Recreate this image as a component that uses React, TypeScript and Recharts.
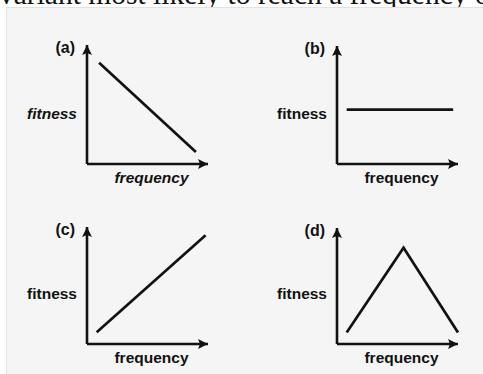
import React from 'react';
import { LineChart, Line, XAxis, YAxis } from 'recharts';

// ---- data (axes run 0..10 on both scales) ----
const panelTitles = ['(a)', '(b)', '(c)', '(d)'];
const yAxisLabel = 'fitness';
const xAxisLabel = 'frequency';
const headerText = 'variant most likely to reach a frequency of';

const freqA = [1.0, 9.0];
const fitnessA = [8.5, 1.0];
const freqB = [0.8, 9.6];
const fitnessB = [4.6, 4.6];
const freqC = [0.8, 9.8];
const fitnessC = [1.0, 9.3];
const freqD = [0.8, 5.5, 10];
const fitnessD = [1.0, 8.3, 1.0];

const toRows = (xs: number[], ys: number[]) => xs.map((x, i) => ({ x, y: ys[i] }));

const INK = '#121212';
const SANS = '"Liberation Sans", Arial, sans-serif';

type PanelProps = {
  id: string;
  title: string;
  data: { x: number; y: number }[];
  italic: boolean;
  left: number;
  top: number;
  width: number;
  height: number;
  margin: { top: number; right: number; bottom: number; left: number };
};

const Panel = ({ id, title, data, italic, left, top, width, height, margin }: PanelProps) => {
  const markerId = `arrow-${id}`;
  const yLabel = (props: any) => {
    const vb = props.viewBox || {};
    const ax = vb.x + vb.width;
    const y0 = vb.y;
    const y1 = vb.y + vb.height;
    return (
      <g>
        <text x={ax - 12} y={y0 + 8} textAnchor="end" fontFamily={SANS} fontWeight="bold" fontSize={16} fill={INK}>
          {title}
        </text>
        <text
          x={ax - 10}
          y={y1 - 45}
          textAnchor="end"
          fontFamily={SANS}
          fontWeight="bold"
          fontStyle={italic ? 'italic' : 'normal'}
          fontSize={15.5}
          fill={INK}
        >
          {yAxisLabel}
        </text>
      </g>
    );
  };
  const xLabel = (props: any) => {
    const vb = props.viewBox || {};
    return (
      <text
        x={vb.x + vb.width / 2 + 4}
        y={vb.y + 19}
        textAnchor="middle"
        fontFamily={SANS}
        fontWeight="bold"
        fontStyle={italic ? 'italic' : 'normal'}
        fontSize={15.5}
        fill={INK}
      >
        {xAxisLabel}
      </text>
    );
  };
  return (
    <div style={{ position: 'absolute', left, top, width, height }}>
      <LineChart width={width} height={height} data={data} margin={margin}>
        <defs>
          <marker
            id={markerId}
            viewBox="0 0 10 10"
            refX="10"
            refY="5"
            markerWidth="10"
            markerHeight="10"
            markerUnits="userSpaceOnUse"
            orient="auto-start-reverse"
          >
            <path d="M0,0 L10,5 L0,10 L2,5 z" fill={INK} />
          </marker>
        </defs>
        <XAxis
          type="number"
          dataKey="x"
          domain={[0, 10]}
          height={1}
          tick={false}
          tickLine={false}
          axisLine={{ stroke: INK, strokeWidth: 2.6, markerEnd: `url(#${markerId})` } as any}
          label={xLabel}
        />
        <YAxis
          type="number"
          dataKey="y"
          domain={[0, 10]}
          width={1}
          tick={false}
          tickLine={false}
          axisLine={{ stroke: INK, strokeWidth: 2.6, markerStart: `url(#${markerId})` } as any}
          label={yLabel}
        />
        <Line
          type="linear"
          dataKey="y"
          stroke={INK}
          strokeWidth={2.7}
          dot={false}
          activeDot={false}
          isAnimationActive={false}
        />
      </LineChart>
    </div>
  );
};

export default function App() {
  return (
    <div
      style={{
        position: 'fixed',
        left: 0,
        top: 0,
        width: 483,
        height: 374,
        overflow: 'hidden',
        background: '#ffffff',
      }}
    >
      <svg width={483} height={12} style={{ position: 'absolute', left: 0, top: 0, overflow: 'hidden' }}>
        <text x={-1} y={3.5} fontFamily='"Liberation Serif", "Times New Roman", serif' fontSize={29.5} fill="#111">
          {headerText}
        </text>
      </svg>
      <div
        style={{
          position: 'absolute',
          left: 6,
          top: 7,
          right: 0,
          bottom: 0,
          background: '#f5f5f5',
          borderLeft: '1px solid #e2e2e2',
          borderTop: '1px solid #e2e2e2',
        }}
      />
      <Panel id="a" title={panelTitles[0]} data={toRows(freqA, fitnessA)} italic left={0} top={30} width={240} height={170}
        margin={{ top: 15, right: 32, bottom: 35, left: 86 }} />
      <Panel id="b" title={panelTitles[1]} data={toRows(freqB, fitnessB)} italic={false} left={240} top={30} width={243} height={170}
        margin={{ top: 16, right: 25, bottom: 35, left: 96 }} />
      <Panel id="c" title={panelTitles[2]} data={toRows(freqC, fitnessC)} italic={false} left={0} top={200} width={240} height={174}
        margin={{ top: 27, right: 32, bottom: 29, left: 86 }} />
      <Panel id="d" title={panelTitles[3]} data={toRows(freqD, fitnessD)} italic={false} left={240} top={200} width={243} height={174}
        margin={{ top: 28, right: 25, bottom: 29, left: 96 }} />
    </div>
  );
}
